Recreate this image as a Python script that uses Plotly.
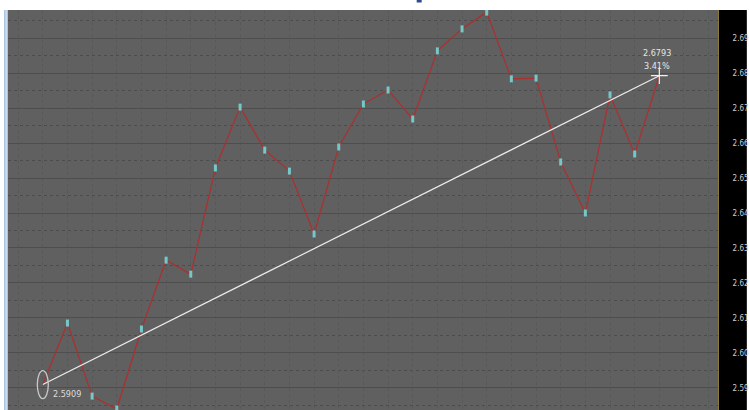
import plotly.graph_objects as go

# ---- data ----
points = list(range(26))
prices = [2.5909, 2.6085, 2.5876, 2.5839, 2.6068, 2.6265, 2.6225, 2.6529,
          2.6703, 2.6580, 2.6520, 2.6340, 2.6589, 2.6712, 2.6752, 2.6669,
          2.6864, 2.6927, 2.6975, 2.6784, 2.6786, 2.6546, 2.6400, 2.6738,
          2.6569, 2.6793]
tick_values = [2.59, 2.60, 2.61, 2.62, 2.63, 2.64, 2.65, 2.66, 2.67, 2.68, 2.69]
tick_labels = ["2.59", "2.60", "2.61", "2.62", "2.63", "2.64",
               "2.65", "2.66", "2.67", "2.68", "2.69"]

W, H = 749, 410
ML, MR, MT, MB = 8, 27, 10, 0
PW = W - ML - MR
PH = H - MT - MB

first, last = prices[0], prices[-1]
pct = (last / first - 1) * 100

FONT = "Liberation Sans Narrow, DejaVu Sans Condensed, Arial Narrow, sans-serif"

fig = go.Figure()

# price line
fig.add_trace(go.Scatter(
    x=points, y=prices, mode="lines",
    line=dict(color="#a83232", width=1.3),
    hoverinfo="skip", showlegend=False))

# trend line first -> last
fig.add_trace(go.Scatter(
    x=[points[0], points[-1]], y=[first, last], mode="lines",
    line=dict(color="#ececec", width=1.2),
    hoverinfo="skip", showlegend=False))

# point markers (small cyan bars)
fig.add_trace(go.Scatter(
    x=points[1:-1], y=prices[1:-1], mode="markers",
    marker=dict(symbol="line-ns", size=5, color="#74c8c8",
                line=dict(color="#74c8c8", width=3)),
    hoverinfo="skip", showlegend=False))

# end crosshair
fig.add_trace(go.Scatter(
    x=[points[-1]], y=[last], mode="markers",
    marker=dict(symbol="cross-thin", size=12, color="#f0f0f0",
                line=dict(color="#f0f0f0", width=1.2)),
    hoverinfo="skip", showlegend=False))

shapes = [
    # ellipse at the start point
    dict(type="circle", xref="x", yref="y", xsizemode="pixel", ysizemode="pixel",
         xanchor=points[0], yanchor=first, x0=-5.5, x1=5.5, y0=-14, y1=14,
         line=dict(color="#c8c8c8", width=1.3)),
    # black right strip
    dict(type="rect", xref="paper", yref="paper", x0=1, x1=1 + (MR + 2) / PW,
         y0=-0.01, y1=1, fillcolor="#000000", line=dict(width=0), layer="below"),
    # blue left bar
    dict(type="rect", xref="paper", yref="paper", x0=-4 / PW, x1=0,
         y0=0, y1=1, fillcolor="#a9c4e2", line=dict(width=0), layer="below"),
    dict(type="rect", xref="paper", yref="paper", x0=-2.5 / PW, x1=-1.2 / PW,
         y0=0, y1=1, fillcolor="#d6e3f2", line=dict(width=0), layer="below"),
    # small dark-blue mark at the top (cut-off title)
    dict(type="rect", xref="paper", yref="paper", x0=(419 - ML) / PW, x1=(424 - ML) / PW,
         y0=1 + 7.5 / PH, y1=1 + MT / PH, fillcolor="#2c4a8c", line=dict(width=0)),
]

annotations = [
    dict(x=points[0], y=first, xref="x", yref="y", text=f"{first:.4f}",
         showarrow=False, xanchor="left", yanchor="middle", xshift=8, yshift=-9,
         font=dict(family=FONT, size=9, color="#dcdcdc")),
    dict(x=points[-1], y=last, xref="x", yref="y", text=f"{last:.4f}",
         showarrow=False, xanchor="center", yanchor="middle", xshift=-2, yshift=23,
         font=dict(family=FONT, size=9, color="#e6e6e6")),
    dict(x=points[-1], y=last, xref="x", yref="y", text=f"{pct:.2f}%",
         showarrow=False, xanchor="center", yanchor="middle", xshift=-2, yshift=10,
         font=dict(family=FONT, size=9, color="#e6e6e6")),
]

px_per_pt = 24.8
x0_px = 43 - ML
xr0 = -x0_px / px_per_pt
xr1 = xr0 + PW / px_per_pt

px_per_unit = 3494.0
y_top = 2.59 + (387.7 - MT) / px_per_unit
y_bot = 2.59 - (H - 387.7) / px_per_unit

fig.update_layout(
    width=W, height=H, autosize=False,
    margin=dict(l=ML, r=MR, t=MT, b=MB, pad=0),
    paper_bgcolor="#ffffff", plot_bgcolor="#606060",
    shapes=shapes, annotations=annotations,
    showlegend=False,
    xaxis=dict(range=[xr0, xr1], tickmode="linear", tick0=0, dtick=1,
               showticklabels=False, ticks="", zeroline=False,
               showgrid=True, gridcolor="#585858", gridwidth=1, griddash="dot",
               showline=False, fixedrange=True),
    yaxis=dict(range=[y_bot, y_top], side="right", tickmode="array",
               tickvals=tick_values, ticktext=tick_labels,
               ticks="", ticklabelstandoff=12,
               tickfont=dict(family=FONT, size=8, color="#cfcfcf"),
               showgrid=True, gridcolor="#4e4e4e", gridwidth=1.2,
               minor=dict(dtick=0.005, tick0=2.59, showgrid=True,
                          gridcolor="#4c4c4c", griddash="dot", gridwidth=1),
               zeroline=False, showline=True, linecolor="#8a7b3a", linewidth=1,
               fixedrange=True),
)

fig.write_html("out.html", config={"displayModeBar": False},
               post_script="document.body.style.margin='0px';document.body.style.overflow='hidden';")
